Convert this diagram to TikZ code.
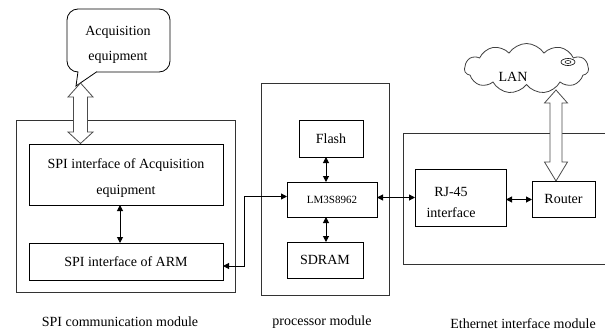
\documentclass[tikz,border=0pt]{standalone}
\usepackage{fontspec}
\setmainfont{Liberation Serif}
\usetikzlibrary{arrows.meta,shapes.symbols}
\begin{document}
\begin{tikzpicture}[x=1pt,y=-1pt,
  box/.style={draw,line width=0.9pt,inner sep=0pt,outer sep=0pt,font=\fontsize{14}{26}\selectfont,align=center},
  outer/.style={draw=black!80,line width=0.9pt},
  dbl/.style={line width=1pt,{Triangle[length=6pt,width=6pt]}-{Triangle[length=6pt,width=6pt]}},
  hollow/.style={draw=black!70,line width=0.8pt,fill=white},
  lbl/.style={font=\fontsize{14}{16}\selectfont}]
\useasboundingbox (0,0) rectangle (605,332);
% outer module boxes
\draw[outer] (16,120) rectangle (235,292);
\draw[outer] (261,83) rectangle (389,295);
\draw[outer] (610,133) -- (403,133) -- (403,264) -- (610,264);
% callout
\draw[line width=0.8pt,rounded corners=11pt] (97,72) -- (170,72) -- (170,9) -- (67,9) -- (67,72) -- (78,72);
\draw[line width=0.8pt] (78,71.6) -- (76,86) -- (97,71.6);
\node[font=\fontsize{14}{25}\selectfont,align=center] (acqeq) at (118,45) {Acquisition\\equipment};
% cloud
\node[cloud,draw=black!75,line width=0.8pt,cloud puffs=11,cloud puff arc=115,aspect=2.6,minimum width=124pt,minimum height=50pt,inner sep=0pt] (lan) at (526.5,68.5) {};
\node[font=\fontsize{14}{16}\selectfont] at (513,77) {LAN};
\draw[line width=0.6pt] (568,62) ellipse [x radius=7pt,y radius=3.5pt];
\draw[line width=0.5pt] (568,62) ellipse [x radius=3pt,y radius=1.5pt];
% hollow arrows
\draw[hollow] (80.5,83) -- (93,97) -- (87.5,97) -- (87.5,132) -- (93,132) -- (80.5,143.5) -- (68,132) -- (73.5,132) -- (73.5,97) -- (68,97) -- cycle;
\draw[hollow] (556,90) -- (567.5,103) -- (562,103) -- (562,162) -- (567.5,162) -- (556,181) -- (544.5,162) -- (550,162) -- (550,103) -- (544.5,103) -- cycle;
% SPI module
\node[box,minimum width=194pt,minimum height=61pt,
  label={[font=\fontsize{14}{26}\selectfont,align=center,yshift=-4pt]center:SPI interface of Acquisition\\equipment}] (acq) at (126,174.5) {};
\node[box,minimum width=194pt,minimum height=37pt] (arm) at (126,261.5) {SPI interface of ARM};
% processor module
\node[box,minimum width=64pt,minimum height=37pt] (flash) at (331,138.5) {Flash};
\node[box,minimum width=90pt,minimum height=35pt,font=\fontsize{11}{13}\selectfont] (lm) at (332,199.5) {LM3S8962};
\node[box,minimum width=76pt,minimum height=36pt] (sdram) at (325,260) {SDRAM};
% ethernet module
\node[box,minimum width=91pt,minimum height=57pt,
  label={[font=\fontsize{14}{21}\selectfont,align=center,yshift=-5pt,xshift=-9.5pt]center:RJ-45\\interface}] (rj) at (460.5,197.5) {};
\node[box,minimum width=63pt,minimum height=36pt] (router) at (563.5,199) {Router};
% connectors
\draw[dbl] ([xshift=-6pt]acq.south) -- ([xshift=-6pt]acq.south |- arm.north);
\draw[dbl] ([xshift=-5pt]flash.south) -- ([xshift=-5pt]flash.south |- lm.north);
\draw[dbl] ([xshift=1pt]sdram.north) -- ([xshift=1pt]sdram.north |- lm.south);
\draw[dbl] ([yshift=3pt]lm.west) -- ++(-43,0) |- ([yshift=-4.5pt]arm.east);
\draw[dbl] ([yshift=2pt]lm.east) -- ([yshift=2pt]lm.east -| rj.west);
\draw[dbl] ([yshift=-2pt]rj.east) -- ([yshift=-2pt]rj.east -| router.west);
% module labels
\node[lbl] (l1) at (120,322) {SPI communication module};
\node[lbl] (l2) at (322,322) {processor module};
\node[lbl] (l3) at (523,324) {Ethernet interface module};
\end{tikzpicture}
\end{document}
